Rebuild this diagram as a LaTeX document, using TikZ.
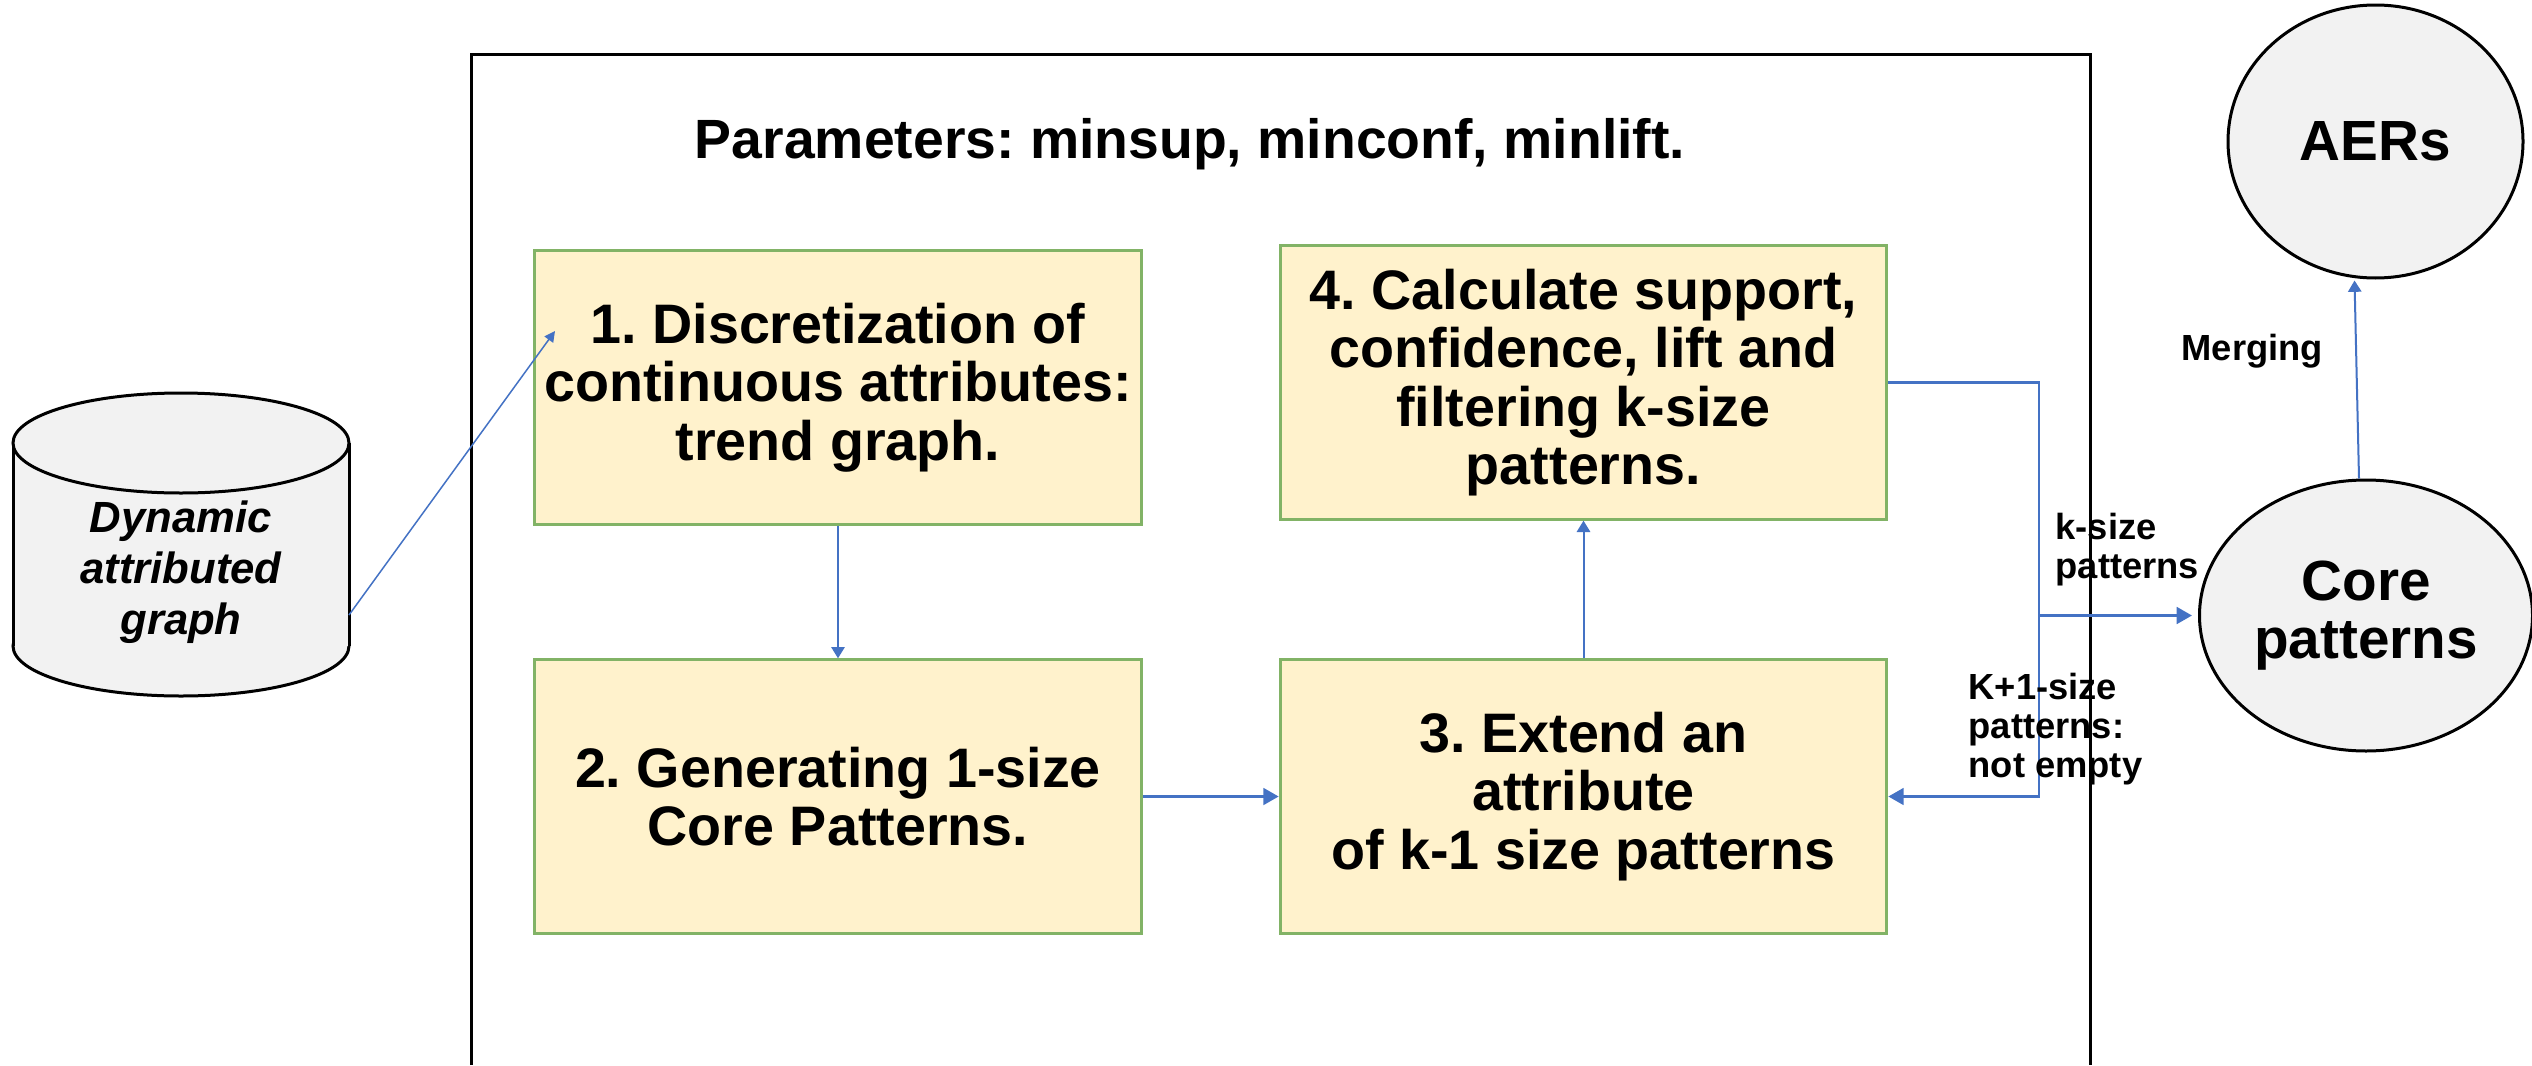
\documentclass[tikz,border=0pt]{standalone}
\usepackage{fontspec}
\setmainfont{Liberation Sans}
\usetikzlibrary{arrows.meta,calc,shapes.geometric}
\definecolor{boxfill}{HTML}{FFF2CC}
\definecolor{boxline}{HTML}{82B366}
\definecolor{conn}{HTML}{4472C4}
\definecolor{shapegray}{HTML}{F2F2F2}
\frenchspacing
\begin{document}
\frenchspacing
\begin{tikzpicture}[x=0.3pt,y=-0.3pt,
  stepbox/.style={draw=boxline, line width=0.9pt, fill=boxfill,
    minimum width=182pt, minimum height=82pt, inner sep=0pt, align=center,
    font=\bfseries\fontsize{16.7}{17.5}\selectfont},
  bigtext/.style={font=\bfseries\fontsize{16.6}{17.1}\selectfont},
  roundshape/.style={draw=black, line width=0.9pt, fill=shapegray, ellipse,
    inner sep=0pt, align=center, font=\bfseries\fontsize{17}{17.4}\selectfont},
  lbl/.style={inner sep=0pt, align=left, font=\bfseries\fontsize{10.9}{11.7}\selectfont},
  thinarrow/.style={draw=conn, line width=0.6pt, -{Triangle[length=3.4pt,width=4pt]}},
  hairarrow/.style={draw=conn, line width=0.45pt, -{Triangle[length=3.2pt,width=3.2pt]}},
  thickarrow/.style={draw=conn, line width=0.85pt, -{Triangle[length=4.6pt,width=5pt]}},
]
\useasboundingbox (0,0) rectangle (2532,1065);
\fill[white] (0,0) rectangle (2532,1065);

% outer frame (open at the bottom)
\draw[line width=0.9pt] (471,1065) -- (471,54) -- (2090,54) -- (2090,1065);

% title
\node[bigtext] (params) at (1190,144) {Parameters: minsup, minconf, minlift.};

% cylinder
\filldraw[fill=shapegray, line width=0.9pt] (181,646) ellipse [x radius=168, y radius=50];
\fill[shapegray] (13,443) rectangle (349,646);
\draw[line width=0.9pt] (13,443) -- (13,646) (349,443) -- (349,646);
\filldraw[fill=shapegray, line width=0.9pt] (181,443) ellipse [x radius=168, y radius=50];
\node[font=\bfseries\itshape\fontsize{13.1}{15.3}\selectfont, align=center] (dag) at (181,572) {Dynamic\\attributed\\graph};
\coordinate (dagout) at (349,615);

% step boxes
\node[stepbox] (b1) at (838,387.5) {1. Discretization of\\continuous attributes:\\trend graph.};
\node[stepbox] (b2) at (838,796.5) {2. Generating 1-size\\Core Patterns.};
\node[stepbox] (b3) at (1583.5,796.5) {3. Extend an\\attribute\\of k-1 size patterns};
\node[stepbox] (b4) at (1583.5,382.5) {4. Calculate support,\\confidence, lift and\\filtering k-size\\patterns.};
\coordinate (b1in) at (555,331);

% result shapes
\node[roundshape, minimum width=99.9pt, minimum height=81.3pt] (core) at (2366,615.5) {Core\\patterns};
\node[roundshape, minimum width=88.5pt, minimum height=81.9pt] (aers) at (2375.5,141.5) {AERs};

% connectors
\draw[hairarrow] (dagout) -- (b1in);
\draw[thinarrow] (b1.south) -- (b2.north);
\draw[thickarrow] (b2.east) -- (b3.west);
\draw[thinarrow] (b3.north) -- (b4.south);
\coordinate (jx) at (2039,600);
\draw[thickarrow] (b4.east) -- (b4.east -| jx) |- (b3.east);
\draw[thickarrow] (jx |- core.west) -- ($(core.west)+(-6,0)$);
\draw[thinarrow] ($(core.north)+(-7,0)$) -- ($(aers.south)+(-21,1)$);

% labels
\node[lbl, anchor=west] (merge) at (2181,351) {Merging};
\node[lbl, anchor=west] (ks) at (2055,549.5) {k-size\\patterns};
\node[lbl, anchor=west] (kp) at (1968,729) {K+1-size\\patterns:\\not empty};
\end{tikzpicture}
\end{document}
